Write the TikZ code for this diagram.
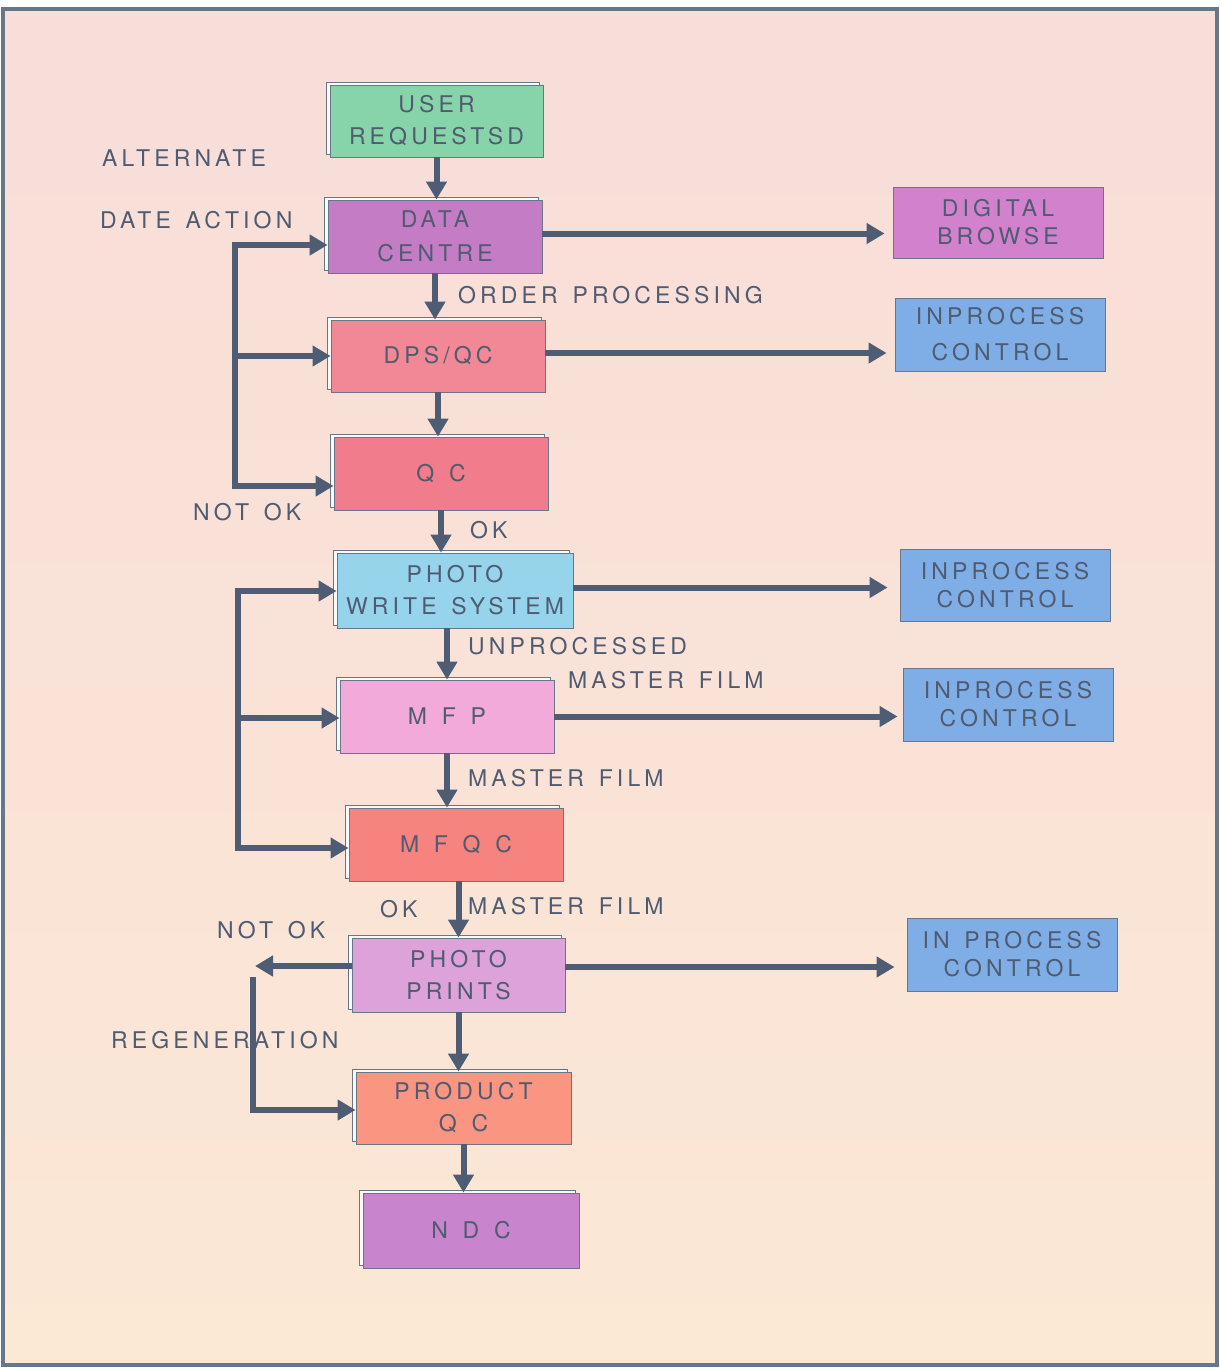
\documentclass[tikz,border=0pt]{standalone}
\usepackage{fontspec}
\setmainfont{TeX Gyre Heros}[LetterSpace=18,WordSpace=1.4]
\usetikzlibrary{arrows.meta,shadows}
\definecolor{frame}{HTML}{67778A}
\definecolor{ink}{HTML}{4F5B70}
\definecolor{arrowc}{HTML}{4E5C74}
\definecolor{bgtop}{HTML}{F8DDD8}
\definecolor{bgbot}{HTML}{FBE8D5}
\definecolor{cgreen}{HTML}{88D4AA}
\definecolor{cdata}{HTML}{C47CC4}
\definecolor{cdps}{HTML}{F28896}
\definecolor{cqc}{HTML}{F07C8C}
\definecolor{cpws}{HTML}{96D4EC}
\definecolor{cmfp}{HTML}{F2AADA}
\definecolor{cmfqc}{HTML}{F6837E}
\definecolor{cpp}{HTML}{DDA2DA}
\definecolor{cpqc}{HTML}{F99580}
\definecolor{cndc}{HTML}{C884CC}
\definecolor{cdig}{HTML}{D282CC}
\definecolor{cipc}{HTML}{7FAEE6}
\begin{document}
\begin{tikzpicture}[x=1pt,y=-1pt,
  box/.style={draw=frame, line width=0.9pt, text=ink, align=center, inner sep=0pt,
    font=\fontsize{23}{32}\selectfont,
    general shadow={shadow xshift=-4pt, shadow yshift=3pt, fill=white!95!gray, draw=frame, line width=0.6pt}},
  sbox/.style={draw=frame, line width=0.9pt, text=ink, align=center, inner sep=0pt,
    font=\fontsize{23}{28}\selectfont},
  lbl/.style={text=ink, anchor=west, inner sep=0pt, font=\fontsize{23}{28}\selectfont},
  arr/.style={draw=arrowc, line width=6pt, line join=miter, -{Triangle[length=18pt,width=20pt]}},
  ln/.style={draw=arrowc, line width=6pt, line join=miter}]
\useasboundingbox (0,0) rectangle (1220,1369);
\fill[white] (0,0) rectangle (1220,1369);
\shade[top color=bgtop, bottom color=bgbot] (3,9) rectangle (1217,1365);
\draw[frame, line width=4pt] (3,9) rectangle (1217,1365);

% main column
\node[box, fill=cgreen, minimum width=213pt, minimum height=72pt] (user) at (436.5,121) {USER\\REQUESTSD};
\node[box, fill=cdata, minimum width=214pt, minimum height=73pt, font=\fontsize{23}{34}\selectfont] (data) at (435,236.5) {DATA\\CENTRE};
\node[box, fill=cdps, minimum width=214pt, minimum height=72pt] (dps) at (438,356) {DPS/QC};
\node[box, fill=cqc, minimum width=214pt, minimum height=73pt] (qc) at (441,473.5) {Q C};
\node[box, fill=cpws, minimum width=236pt, minimum height=75pt] (pws) at (455,590.5) {PHOTO\\WRITE SYSTEM};
\node[box, fill=cmfp, minimum width=214pt, minimum height=73pt] (mfp) at (447,716.5) {M F P};
\node[box, fill=cmfqc, minimum width=214pt, minimum height=73pt] (mfqc) at (456,844.5) {M F Q C};
\node[box, fill=cpp, minimum width=213pt, minimum height=74pt] (pp) at (458.5,975) {PHOTO\\PRINTS};
\node[box, fill=cpqc, minimum width=215pt, minimum height=72pt] (pqc) at (463.5,1108) {PRODUCT\\Q C};
\node[box, fill=cndc, minimum width=216pt, minimum height=75pt] (ndc) at (471,1230.5) {N D C};

% right column
\node[sbox, fill=cdig, minimum width=210pt, minimum height=71pt] (dig) at (998,222.5) {DIGITAL\\BROWSE};
\node[sbox, fill=cipc, minimum width=210pt, minimum height=73pt, font=\fontsize{23}{36}\selectfont] (ipc1) at (1000,334.5) {INPROCESS\\CONTROL};
\node[sbox, fill=cipc, minimum width=210pt, minimum height=72pt] (ipc2) at (1005,585) {INPROCESS\\CONTROL};
\node[sbox, fill=cipc, minimum width=210pt, minimum height=73pt] (ipc3) at (1008,704.5) {INPROCESS\\CONTROL};
\node[sbox, fill=cipc, minimum width=210pt, minimum height=73pt] (ipc4) at (1012,954.5) {IN PROCESS\\CONTROL};

% labels
\node[lbl] (alt) at (102,158) {ALTERNATE};
\node[lbl] (dact) at (100,220) {DATE ACTION};
\node[lbl] (ordp) at (458,295) {ORDER PROCESSING};
\node[lbl] (nok1) at (193,512) {NOT OK};
\node[lbl] (ok1) at (470,530) {OK};
\node[lbl] (unp) at (468,646) {UNPROCESSED};
\node[lbl] (mf1) at (568,680) {MASTER FILM};
\node[lbl] (mf2) at (468,778) {MASTER FILM};
\node[lbl] (ok2) at (380,909) {OK};
\node[lbl] (mf3) at (468,906) {MASTER FILM};
\node[lbl] (nok2) at (217,930) {NOT OK};

% vertical flow
\draw[arr] (user.south) -- (user.south |- data.north);
\draw[arr] (data.south) -- (data.south |- dps.north);
\draw[arr] (dps.south) -- (dps.south |- qc.north);
\draw[arr] (qc.south) -- (qc.south |- pws.north);
\draw[arr] (pws.south -| mfp.north) -- (mfp.north);
\draw[arr] (mfp.south) -- (mfp.south |- mfqc.north);
\draw[arr] (mfqc.south -| pp.north) -- (pp.north);
\draw[arr] (pp.south) -- (pp.south |- pqc.north);
\draw[arr] (pqc.south) -- (pqc.south |- ndc.north);

% right arrows
\draw[arr, shorten >=8pt] ([yshift=3pt]data.east) -- ([yshift=3pt]data.east -| dig.west);
\draw[arr, shorten >=8pt] ([yshift=3pt]dps.east) -- ([yshift=3pt]dps.east -| ipc1.west);
\draw[arr, shorten >=12pt] ([yshift=3pt]pws.east) -- ([yshift=3pt]pws.east -| ipc2.west);
\draw[arr, shorten >=5pt] (mfp.east) -- (mfp.east -| ipc3.west);
\draw[arr, shorten >=12pt] ([yshift=8pt]pp.east) -- ([yshift=8pt]pp.east -| ipc4.west);

% loop 1
\coordinate (l1a) at (235,245);
\coordinate (l1b) at (235,356);
\coordinate (l1c) at (235,486);
\draw[arr] (l1c) -- (l1a) -- (l1a -| data.west);
\draw[arr] (l1a) -- (l1c) -- (l1c -| qc.west);
\draw[arr] (l1b) -- (l1b -| dps.west);

% loop 2
\coordinate (l2a) at (238,591);
\coordinate (l2b) at (238,718);
\coordinate (l2c) at (238,848);
\draw[arr] (l2c) -- (l2a) -- (l2a -| pws.west);
\draw[arr] (l2a) -- (l2c) -- (l2c -| mfqc.west);
\draw[arr] (l2b) -- (l2b -| mfp.west);

% loop 3
\coordinate (ppout) at (352,966);
\coordinate (nokend) at (255,966);
\draw[arr] (ppout) -- (nokend);
\coordinate (rtop) at (253,977);
\coordinate (rbot) at (253,1110);
\draw[arr] (rtop) -- (rbot) -- (rbot -| pqc.west);
\node[lbl] (regen) at (111,1040) {REGENERATION};
\end{tikzpicture}
\end{document}
